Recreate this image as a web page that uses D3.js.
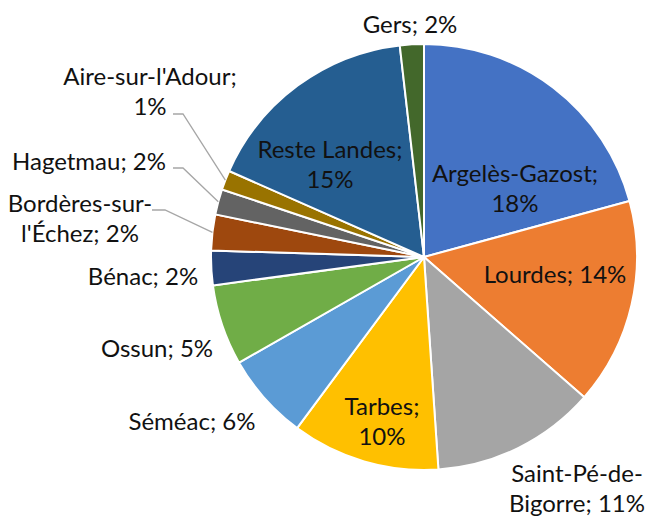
<!DOCTYPE html>
<html>
<head>
<meta charset="utf-8">
<script src="https://cdn.jsdelivr.net/npm/d3@7"></script>
<style>
  html, body { margin: 0; padding: 0; background: #fff; }
  svg { display: block; }
  text { font-family: Lato, "Open Sans", sans-serif; fill: #111; }
</style>
</head>
<body>
<svg id="chart" width="648" height="520"></svg>
<script>
// Slices, clockwise from 12 o'clock. Shares are % of the grand total
// (the remaining ~12 % is not drawn, so the pie is scaled to what is shown).
const names = [
  "Argelès-Gazost", "Lourdes", "Saint-Pé-de-Bigorre", "Tarbes", "Séméac", "Ossun",
  "Bénac", "Bordères-sur-l'Échez", "Hagetmau", "Aire-sur-l'Adour", "Reste Landes", "Gers"
];
const shares = [18.3, 13.8, 11.0, 9.9, 5.8, 5.4, 2.3, 2.4, 1.7, 1.3, 14.6, 1.6];
const colors = [
  "#4472C4", "#ED7D31", "#A5A5A5", "#FFC000", "#5B9BD5", "#70AD47",
  "#264478", "#9E480E", "#636363", "#997300", "#255E91", "#43682B"
];
// how each label is broken into lines (Excel-style wrapping)
const labelLines = [
  ["Argelès-Gazost;", "{p}"], ["Lourdes; {p}"], ["Saint-Pé-de-", "Bigorre; {p}"],
  ["Tarbes;", "{p}"], ["Séméac; {p}"], ["Ossun; {p}"], ["Bénac; {p}"],
  ["Bordères-sur-", "l'Échez; {p}"], ["Hagetmau; {p}"], ["Aire-sur-l'Adour;", "{p}"],
  ["Reste Landes;", "{p}"], ["Gers; {p}"]
];

// layout: label centre x / first baseline y, optional leader start + elbow
const cx = 424, cy = 257, R = 213;
const labelAt = [
  [515, 182], [555, 283], [577, 482], [382, 415], [192, 430], [157, 357],
  [143, 285], [80, 212], [89, 170], [150, 85], [330, 158], [410, 33]
];
const leaders = {
  7: [[152, 210], [165, 210]],
  8: [[173, 168], [183, 168]],
  9: [[173, 114], [183, 114]]
};
const lineGap = 30;

const svg = d3.select("#chart");
const g = svg.append("g").attr("transform", `translate(${cx},${cy})`);

const pie = d3.pie().sort(null).value((d) => d.v);
const arcs = pie(names.map((n, i) => ({ name: n, v: shares[i], i })));
const arc = d3.arc().innerRadius(0).outerRadius(R);
const edge = d3.arc().innerRadius(R).outerRadius(R);
const pct = (v) => d3.format(".0f")(v) + "%";

g.selectAll("path.slice")
  .data(arcs)
  .join("path")
  .attr("class", "slice")
  .attr("d", arc)
  .attr("fill", (d) => colors[d.data.i])
  .attr("stroke", "#fff")
  .attr("stroke-width", 2)
  .attr("stroke-linejoin", "round");

// leader lines for the thin slices on the left
arcs.forEach((d) => {
  const l = leaders[d.data.i];
  if (!l) return;
  const [ex, ey] = edge.centroid(d);
  svg.append("polyline")
    .attr("points", [l[0], l[1], [cx + ex, cy + ey]].map((p) => p.join(",")).join(" "))
    .attr("fill", "none")
    .attr("stroke", "#A6A6A6")
    .attr("stroke-width", 1.3);
});

const labels = svg.append("g")
  .selectAll("text")
  .data(arcs)
  .join("text")
  .attr("text-anchor", "middle")
  .attr("font-size", 24)
  .attr("x", (d) => labelAt[d.data.i][0])
  .attr("y", (d) => labelAt[d.data.i][1]);

labels.each(function (d) {
  const [x] = labelAt[d.data.i];
  labelLines[d.data.i].forEach((line, k) => {
    d3.select(this).append("tspan")
      .attr("x", x)
      .attr("dy", k === 0 ? 0 : lineGap)
      .text(line.replace("{p}", pct(d.data.v)));
  });
});
</script>
</body>
</html>
